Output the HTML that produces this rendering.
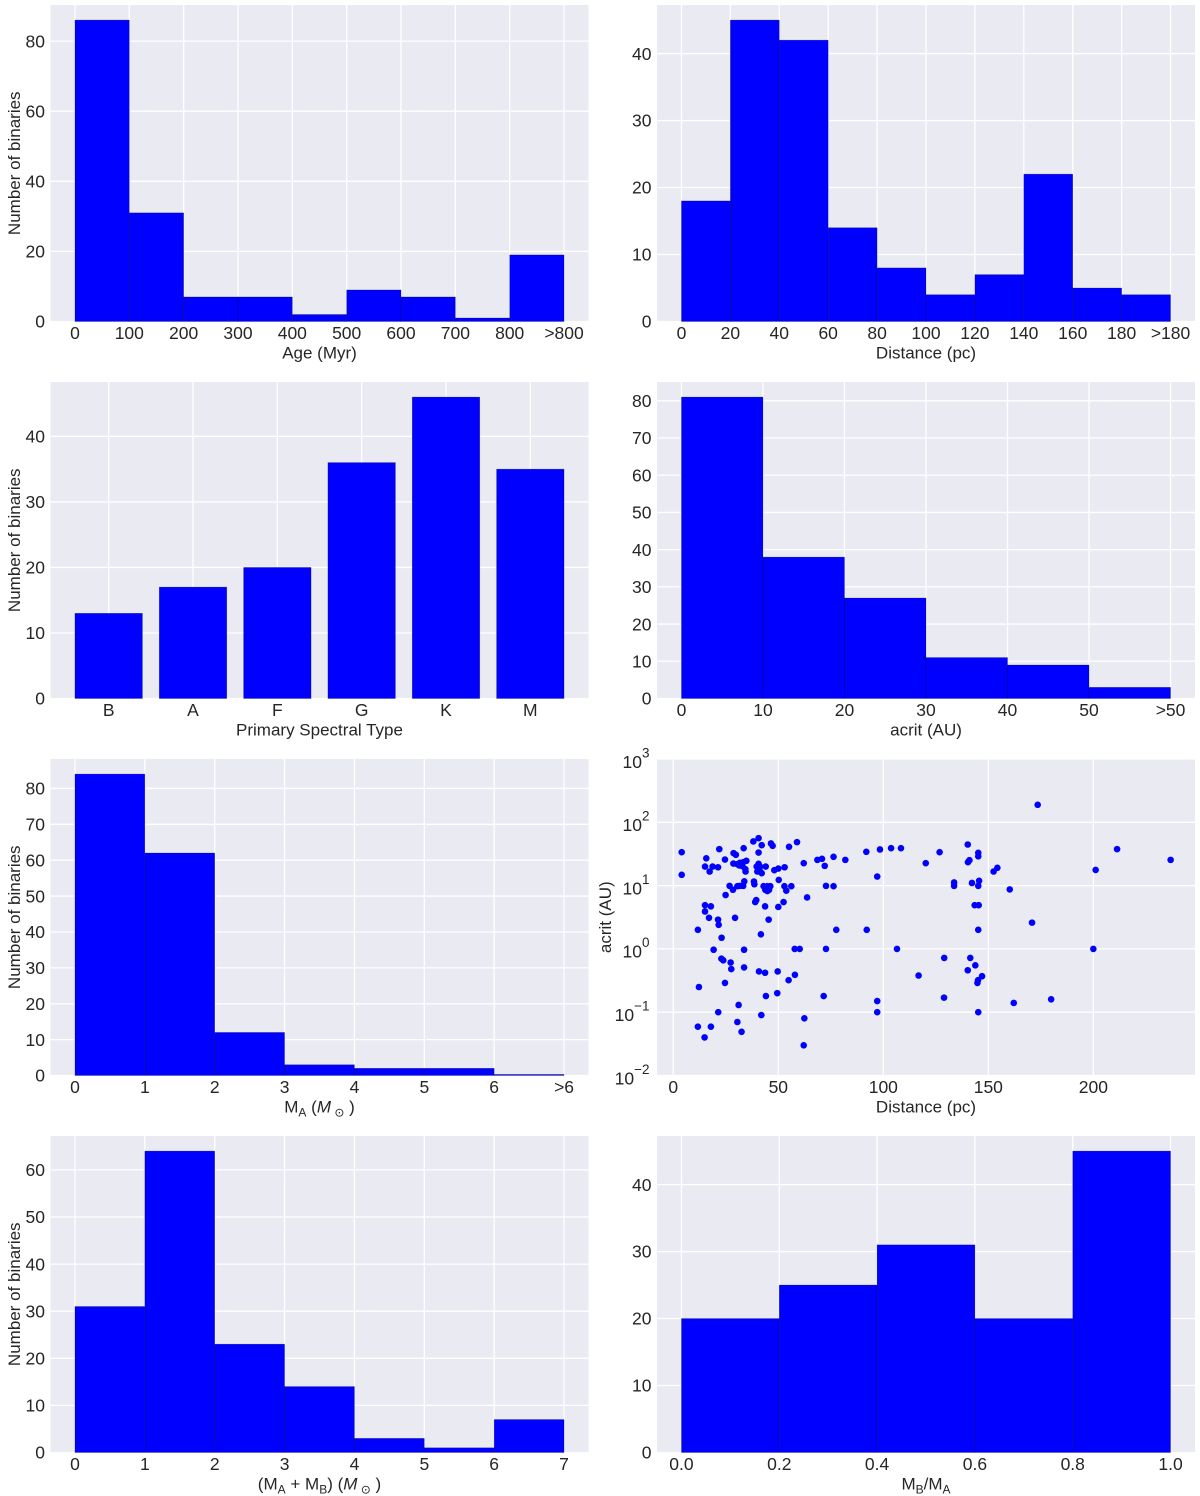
<!DOCTYPE html>
<html lang="en">
<head>
<meta charset="utf-8">
<title>Binary star sample histograms</title>
<style>
  html, body { margin: 0; padding: 0; background: #fff; }
  svg { display: block; }
  text { font-family: "Liberation Sans", Arial, sans-serif; fill: #262626; }
  .tick { font-size: 17.5px; }
  .title { font-size: 17px; }
</style>
</head>
<body>
<svg id="figure" xmlns="http://www.w3.org/2000/svg" width="1200" height="1496" viewBox="0 0 1200 1496"></svg>
<script>
// ---- chart data ----
const ageCounts = [86, 31, 7, 7, 2, 9, 7, 1, 19];
const ageXLabels = ["0", "100", "200", "300", "400", "500", "600", "700", "800", ">800"];
const ageYTicks = [0, 20, 40, 60, 80];

const distanceCounts = [18, 45, 42, 14, 8, 4, 7, 22, 5, 4];
const distanceXLabels = ["0", "20", "40", "60", "80", "100", "120", "140", "160", "180", ">180"];
const distanceYTicks = [0, 10, 20, 30, 40];

const spectralTypes = ["B", "A", "F", "G", "K", "M"];
const spectralCounts = [13, 17, 20, 36, 46, 35];
const spectralYTicks = [0, 10, 20, 30, 40];

const acritCounts = [81, 38, 27, 11, 9, 3];
const acritXLabels = ["0", "10", "20", "30", "40", "50", ">50"];
const acritYTicks = [0, 10, 20, 30, 40, 50, 60, 70, 80];

const primaryMassCounts = [84, 62, 12, 3, 2, 2, 0.3];
const primaryMassXLabels = ["0", "1", "2", "3", "4", "5", "6", ">6"];
const primaryMassYTicks = [0, 10, 20, 30, 40, 50, 60, 70, 80];

const totalMassCounts = [31, 64, 23, 14, 3, 1, 7];
const totalMassXLabels = ["0", "1", "2", "3", "4", "5", "6", "7"];
const totalMassYTicks = [0, 10, 20, 30, 40, 50, 60];

const ratioCounts = [20, 25, 31, 20, 45];
const ratioXLabels = ["0.0", "0.2", "0.4", "0.6", "0.8", "1.0"];
const ratioYTicks = [0, 10, 20, 30, 40];

const scatterDistance = [4, 4, 15.1, 15.7, 17.3, 18.7, 21.3, 21.9, 24.6, 28.7, 29.8, 28.6, 30.5, 31.7, 31.4, 33.3, 34.8, 32.9, 34.3, 34.4, 33.5, 38.1, 40.6, 42.1, 40.6, 46.5, 47.3, 55.1, 58.9, 40.6, 39.7, 41.3, 44, 40, 41, 42.1, 48.1, 50, 53, 62.1, 68.6, 70.8, 72.1, 76.3, 81.9, 91.9, 98.4, 103.7, 108.4, 120.2, 97.1, 50.2, 33.8, 38.4, 38.6, 26.8, 30.5, 31.7, 33.3, 28.4, 43, 44.8, 46.2, 43.8, 45.6, 44.8, 52.9, 56.2, 53.8, 72.7, 76.3, 24.9, 63.7, 39.5, 39, 52.5, 43.7, 50, 15.1, 17.9, 15.1, 17, 21.3, 29.4, 45.4, 21.6, 11.7, 23, 41.7, 77.6, 92.1, 19.2, 33.7, 57.8, 60.2, 72.7, 106.5, 22.9, 23.8, 27.3, 27.6, 33.7, 40.8, 43.7, 49.7, 57.9, 54.9, 116.8, 24.6, 12.2, 44.1, 49.5, 71.6, 97.1, 97.1, 31.1, 21.4, 41.9, 62.4, 30.5, 11.7, 17.9, 32.5, 14.9, 62.1, 173.5, 140.2, 126.8, 145.2, 145.2, 141, 140.3, 154.3, 152.5, 201.1, 211.3, 236.8, 133.7, 133.7, 142.2, 145.6, 145.2, 160.2, 143.5, 145.4, 170.8, 145.2, 200, 129, 141.4, 143.8, 140.2, 147, 145.1, 144.8, 128.9, 162.1, 179.9, 145.2];
const scatterAcrit = [33.7, 14.8, 20, 27, 16.7, 20, 19.5, 37.7, 25.8, 32.6, 30.6, 22.3, 21.8, 22.9, 20.8, 23.4, 24.6, 20.3, 18.2, 16.7, 39, 49.8, 56.2, 43.5, 33.3, 46.3, 42.5, 41, 48.6, 22.1, 20, 20, 20, 16.7, 18.4, 15.7, 17.5, 18.6, 19.5, 22.6, 25.5, 26.5, 20.5, 28.5, 25.5, 34.2, 37.2, 39, 39, 22.6, 13.9, 12.3, 11.7, 11.6, 10.5, 9.9, 9.8, 9.9, 9.9, 8.6, 9.8, 9.8, 9.8, 8.6, 8.6, 8.2, 9.8, 9.8, 8.3, 9.9, 9.8, 7.1, 6.5, 5.9, 5.5, 5.5, 4.7, 4.6, 4.9, 4.7, 3.9, 3.1, 2.9, 3.1, 2.9, 2.4, 2, 1.5, 1.7, 2, 2, 0.97, 0.97, 1, 1, 1, 1, 0.7, 0.66, 0.61, 0.48, 0.51, 0.44, 0.42, 0.44, 0.39, 0.32, 0.38, 0.29, 0.25, 0.18, 0.2, 0.18, 0.15, 0.1, 0.13, 0.1, 0.09, 0.08, 0.07, 0.059, 0.059, 0.049, 0.04, 0.03, 189, 44.6, 33.7, 33, 29, 25.2, 23.4, 19.1, 16.7, 17.7, 37.7, 25.5, 11.2, 9.9, 11, 11.9, 9.9, 8.7, 4.9, 4.9, 2.6, 2, 1, 0.72, 0.72, 0.55, 0.46, 0.37, 0.32, 0.29, 0.17, 0.14, 0.16, 0.1];
const scatterXTicks = [0, 50, 100, 150, 200];
const scatterYExponents = [-2, -1, 0, 1, 2, 3];

// ---- layout helpers ----
const NS = "http://www.w3.org/2000/svg";
const fig = document.getElementById("figure");
const PLOT_W = 538, PLOT_H = 316.5;

function make(tag, attrs, parent) {
  const n = document.createElementNS(NS, tag);
  for (const k in attrs) n.setAttribute(k, attrs[k]);
  (parent || fig).appendChild(n);
  return n;
}

function drawFrame(name, left, top) {
  const g = make("g", {});
  
  
  const bg = make("rect", { x: left, y: top, width: PLOT_W, height: PLOT_H, fill: "#eaeaf2" }, g);
  
  
  return g;
}

function drawGridX(g, px, top) {
  const l = make("line", { x1: px, x2: px, y1: top, y2: top + PLOT_H, stroke: "#fff", "stroke-width": 1.3 }, g);
  
  
}

function drawGridY(g, py, left) {
  const l = make("line", { x1: left, x2: left + PLOT_W, y1: py, y2: py, stroke: "#fff", "stroke-width": 1.3 }, g);
  
  
}

function drawXLabel(g, px, top, label) {
  const t = make("text", { x: px, y: top + PLOT_H + 17.5, "text-anchor": "middle", class: "tick" }, g);
  t.textContent = label;
  
  
}

function drawYLabel(g, py, left, label) {
  const t = make("text", { x: left - 5.5, y: py + 6.2, "text-anchor": "end", class: "tick" }, g);
  t.textContent = label;
  
  
}

function drawXTitle(g, cx, top, markup) {
  const t = make("text", { x: cx, y: top + PLOT_H + 37, "text-anchor": "middle", class: "title" }, g);
  t.innerHTML = markup;
  
  
}

function drawYTitle(g, x, cy, text) {
  const t = make("text", { x: x, y: cy, "text-anchor": "middle", class: "title", transform: "rotate(-90 " + x + " " + cy + ")" }, g);
  t.textContent = text;
  
  
}

function drawBar(g, x0, x1, y0, yv) {
  const r = make("rect", { x: x0, y: yv, width: x1 - x0, height: y0 - yv, fill: "#0000ff", stroke: "#000", "stroke-opacity": 0.35, "stroke-width": 0.6 }, g);
  
  
}

// Histogram with equal-width bins, tick labels at the bin edges.
function drawHistogram(o) {
  const g = drawFrame(o.name, o.left, o.top);
  const inner = PLOT_W / 1.1;
  const pad = (PLOT_W - inner) / 2;
  const n = o.counts.length;
  const xAt = i => o.left + pad + inner * i / n;
  const yAt = v => o.top + PLOT_H - v / o.yMax * PLOT_H;
  o.xLabels.forEach((lab, i) => drawGridX(g, xAt(i), o.top));
  o.yTicks.forEach(v => drawGridY(g, yAt(v), o.left));
  o.counts.forEach((c, i) => drawBar(g, xAt(i), xAt(i + 1), yAt(0), yAt(c)));
  o.xLabels.forEach((lab, i) => drawXLabel(g, xAt(i), o.top, lab));
  o.yTicks.forEach(v => drawYLabel(g, yAt(v), o.left, String(v)));
  drawXTitle(g, o.left + PLOT_W / 2, o.top, o.xTitle);
  if (o.yTitle) drawYTitle(g, 20, o.top + PLOT_H / 2, o.yTitle);
}

// Category bars, width 0.8 centred on each category.
function drawCategoryBars(o) {
  const g = drawFrame(o.name, o.left, o.top);
  const inner = PLOT_W / 1.1;
  const pad = (PLOT_W - inner) / 2;
  const n = o.counts.length;
  const xAt = v => o.left + pad + inner * (v + 0.4) / (n - 0.2);
  const yAt = v => o.top + PLOT_H - v / o.yMax * PLOT_H;
  o.categories.forEach((c, i) => drawGridX(g, xAt(i), o.top));
  o.yTicks.forEach(v => drawGridY(g, yAt(v), o.left));
  o.counts.forEach((c, i) => drawBar(g, xAt(i - 0.4), xAt(i + 0.4), yAt(0), yAt(c)));
  o.categories.forEach((c, i) => drawXLabel(g, xAt(i), o.top, c));
  o.yTicks.forEach(v => drawYLabel(g, yAt(v), o.left, String(v)));
  drawXTitle(g, o.left + PLOT_W / 2, o.top, o.xTitle);
  drawYTitle(g, 20, o.top + PLOT_H / 2, o.yTitle);
}

function drawScatter(o) {
  const g = drawFrame(o.name, o.left, o.top);
  const xMin = -7.76, xMax = 248.4, yMinExp = -2, yMaxExp = 3;
  const xAt = v => o.left + (v - xMin) / (xMax - xMin) * PLOT_W;
  const yAt = v => o.top + PLOT_H - (Math.log10(v) - yMinExp) / (yMaxExp - yMinExp) * PLOT_H;
  scatterXTicks.forEach(v => drawGridX(g, xAt(v), o.top));
  scatterYExponents.forEach(e => drawGridY(g, yAt(Math.pow(10, e)), o.left));
  scatterDistance.forEach((d, i) => {
    const c = make("circle", { cx: xAt(d), cy: yAt(scatterAcrit[i]), r: 3.3, fill: "#0000ff" }, g);
    
    
  });
  scatterXTicks.forEach(v => drawXLabel(g, xAt(v), o.top, String(v)));
  scatterYExponents.forEach(e => {
    const py = yAt(Math.pow(10, e));
    const t = make("text", { x: o.left - 7.5, y: py + 8.8, "text-anchor": "end", class: "tick" }, g);
    t.innerHTML = '10<tspan dy="-10.5" font-size="13.5">' + String(e).replace("-", "\u2212") + '</tspan>';
    
    
  });
  drawXTitle(g, o.left + PLOT_W / 2, o.top, o.xTitle);
  drawYTitle(g, 611, o.top + PLOT_H / 2, o.yTitle);
}

// ---- panels ----
const LEFT_COL = 50.5, RIGHT_COL = 657;
const sub = s => '<tspan dy="4" font-size="12">' + s + '</tspan><tspan dy="-4">\u200b</tspan>';
const solar = '(<tspan font-style="italic">M</tspan>' + '<tspan dy="4" font-size="12"> \u2299</tspan><tspan dy="-4"> )</tspan>';

drawHistogram({ name: "age-histogram", left: LEFT_COL, top: 5, counts: ageCounts, xLabels: ageXLabels, yTicks: ageYTicks, yMax: 90.3, xTitle: "Age (Myr)", yTitle: "Number of binaries" });
drawHistogram({ name: "distance-histogram", left: RIGHT_COL, top: 5, counts: distanceCounts, xLabels: distanceXLabels, yTicks: distanceYTicks, yMax: 47.25, xTitle: "Distance (pc)" });
drawCategoryBars({ name: "spectral-type-bars", left: LEFT_COL, top: 382, counts: spectralCounts, categories: spectralTypes, yTicks: spectralYTicks, yMax: 48.3, xTitle: "Primary Spectral Type", yTitle: "Number of binaries" });
drawHistogram({ name: "acrit-histogram", left: RIGHT_COL, top: 382, counts: acritCounts, xLabels: acritXLabels, yTicks: acritYTicks, yMax: 85.05, xTitle: "acrit (AU)" });
drawHistogram({ name: "primary-mass-histogram", left: LEFT_COL, top: 759, counts: primaryMassCounts, xLabels: primaryMassXLabels, yTicks: primaryMassYTicks, yMax: 88.2, xTitle: "M" + sub("A") + " " + solar, yTitle: "Number of binaries" });
drawScatter({ name: "acrit-vs-distance-scatter", left: RIGHT_COL, top: 759, xTitle: "Distance (pc)", yTitle: "acrit (AU)" });
drawHistogram({ name: "total-mass-histogram", left: LEFT_COL, top: 1136, counts: totalMassCounts, xLabels: totalMassXLabels, yTicks: totalMassYTicks, yMax: 67.2, xTitle: "(M" + sub("A") + " + M" + sub("B") + ") " + solar, yTitle: "Number of binaries" });
drawHistogram({ name: "mass-ratio-histogram", left: RIGHT_COL, top: 1136, counts: ratioCounts, xLabels: ratioXLabels, yTicks: ratioYTicks, yMax: 47.25, xTitle: "M" + sub("B") + "/M" + sub("A") });
</script>
</body>
</html>
